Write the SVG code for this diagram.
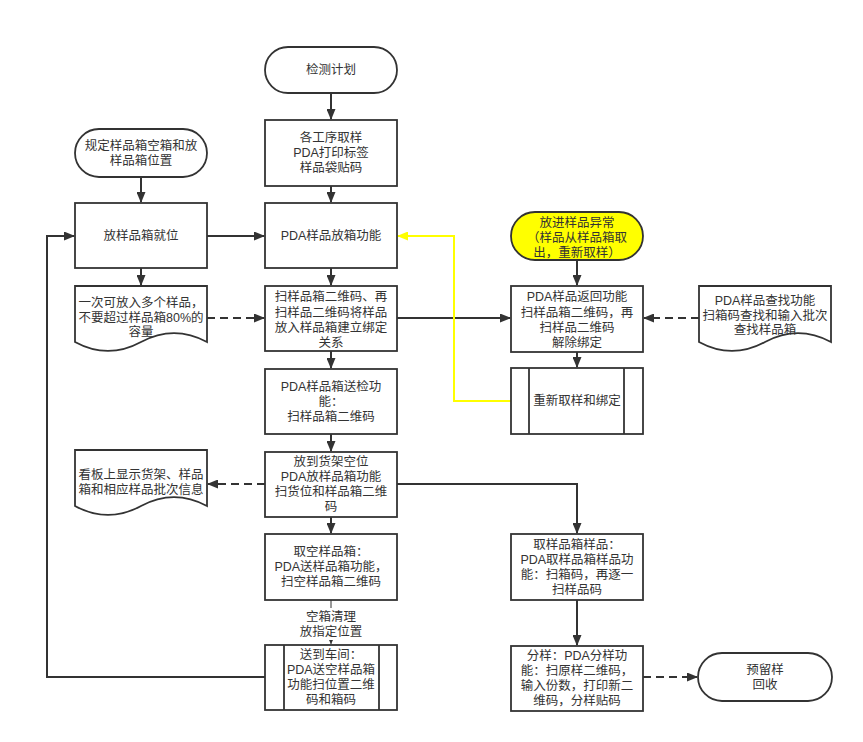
<svg xmlns="http://www.w3.org/2000/svg" width="863" height="742" viewBox="0 0 863 742">
<defs>
<style>
.box{fill:#fff;stroke:#333;stroke-width:1.8}
.yel{fill:#ffff00;stroke:#333;stroke-width:1.8}
.t{font-family:"Liberation Sans","Noto Sans CJK SC",sans-serif;font-size:12.5px;fill:#333;text-anchor:middle;dominant-baseline:central}
.c{fill:none;stroke:#333;stroke-width:2}
.d{fill:none;stroke:#333;stroke-width:2;stroke-dasharray:8 5}
.y{fill:none;stroke:#ffff00;stroke-width:2}
.thin{fill:none;stroke:#333;stroke-width:1}
</style>
<marker id="a" markerWidth="11" markerHeight="9" refX="10" refY="4.5" orient="auto" markerUnits="userSpaceOnUse"><path d="M0,0 L11,4.5 L0,9 z" fill="#333"/></marker>
<marker id="ay" markerWidth="11" markerHeight="9" refX="10" refY="4.5" orient="auto" markerUnits="userSpaceOnUse"><path d="M0,0 L11,4.5 L0,9 z" fill="#ffff00"/></marker>
<marker id="as" markerWidth="5" markerHeight="5" refX="5" refY="2.5" orient="auto" markerUnits="userSpaceOnUse"><path d="M0,0 L5,2.5 L0,5 z" fill="#333"/></marker>
</defs>
<rect width="863" height="742" fill="#fff"/>

<g id="connectors">
<path class="c" d="M331,93 V119" marker-end="url(#a)"/>
<path class="c" d="M331,186 V202" marker-end="url(#a)"/>
<path class="c" d="M331,268 V285" marker-end="url(#a)"/>
<path class="c" d="M331,351 V368" marker-end="url(#a)"/>
<path class="c" d="M331,434 V451" marker-end="url(#a)"/>
<path class="c" d="M331,517 V533" marker-end="url(#a)"/>
<path class="thin" d="M331,600 V644" marker-end="url(#as)"/>
<path class="c" d="M141,177 V202" marker-end="url(#a)"/>
<path class="c" d="M141,268 V285" marker-end="url(#a)"/>
<path class="c" d="M207,236 H264" marker-end="url(#a)"/>
<path class="d" d="M207,318 H264" marker-end="url(#a)"/>
<path class="c" d="M397,318 H510" marker-end="url(#a)"/>
<path class="c" d="M577,260 V285" marker-end="url(#a)"/>
<path class="c" d="M577,352 V367" marker-end="url(#a)"/>
<path class="d" d="M699,318 H644" marker-end="url(#a)"/>
<path class="y" d="M511,401 H454 V236 H398" marker-end="url(#ay)"/>
<path class="d" d="M265,484 H208" marker-end="url(#a)"/>
<path class="c" d="M397,484 H577 V533" marker-end="url(#a)"/>
<path class="c" d="M577,600 V645" marker-end="url(#a)"/>
<path class="d" d="M643,677 H697" marker-end="url(#a)"/>
<path class="c" d="M265,677 H47 V236 H74" marker-end="url(#a)"/>
<rect x="302" y="608" width="58" height="32" fill="#fff"/>
<text class="t"><tspan x="331" y="617">空箱清理</tspan><tspan x="331" y="632">放指定位置</tspan></text>
</g>

<g id="start">
<rect class="box" x="265" y="47" width="132" height="46" rx="23"/>
<text class="t" x="331" y="70">检测计划</text>
</g>
<g id="sampling">
<rect class="box" x="265" y="120" width="132" height="66"/>
<text class="t"><tspan x="331" y="138">各工序取样</tspan><tspan x="331" y="153">PDA打印标签</tspan><tspan x="331" y="168">样品袋贴码</tspan></text>
</g>
<g id="putbox">
<rect class="box" x="265" y="203" width="132" height="65"/>
<text class="t" x="331" y="236">PDA样品放箱功能</text>
</g>
<g id="bind">
<rect class="box" x="265" y="286" width="132" height="65"/>
<text class="t"><tspan x="331" y="297">扫样品箱二维码、再</tspan><tspan x="331" y="312.5">扫样品二维码将样品</tspan><tspan x="331" y="328">放入样品箱建立绑定</tspan><tspan x="331" y="343">关系</tspan></text>
</g>
<g id="sendcheck">
<rect class="box" x="265" y="369" width="132" height="65"/>
<text class="t"><tspan x="331" y="386.5">PDA样品箱送检功</tspan><tspan x="331" y="401.5">能：</tspan><tspan x="331" y="416.5">扫样品箱二维码</tspan></text>
</g>
<g id="shelf">
<rect class="box" x="265" y="452" width="132" height="65"/>
<text class="t"><tspan x="331" y="462">放到货架空位</tspan><tspan x="331" y="477">PDA放样品箱功能</tspan><tspan x="331" y="492">扫货位和样品箱二维</tspan><tspan x="331" y="507">码</tspan></text>
</g>
<g id="takeempty">
<rect class="box" x="265" y="534" width="132" height="66"/>
<text class="t"><tspan x="331" y="552">取空样品箱：</tspan><tspan x="331" y="567">PDA送样品箱功能，</tspan><tspan x="331" y="582">扫空样品箱二维码</tspan></text>
</g>
<g id="toworkshop">
<rect class="box" x="265" y="645" width="132" height="65"/>
<line class="box" x1="284" y1="645" x2="284" y2="710"/>
<line class="box" x1="379" y1="645" x2="379" y2="710"/>
<text class="t"><tspan x="331" y="655">送到车间：</tspan><tspan x="331" y="670">PDA送空样品箱</tspan><tspan x="331" y="685">功能扫位置二维</tspan><tspan x="331" y="700">码和箱码</tspan></text>
</g>

<g id="define">
<rect class="box" x="75" y="129" width="132" height="48" rx="24"/>
<text class="t"><tspan x="141" y="145.5">规定样品箱空箱和放</tspan><tspan x="141" y="160.5">样品箱位置</tspan></text>
</g>
<g id="place">
<rect class="box" x="75" y="203" width="132" height="65"/>
<text class="t" x="141" y="236">放样品箱就位</text>
</g>
<g id="capacity">
<path class="box" d="M75,286 H207 V342 Q174,324.3 141,342 Q108,359.9 75,342 Z"/>
<text class="t"><tspan x="141" y="303">一次可放入多个样品，</tspan><tspan x="141" y="317.5">不要超过样品箱80%的</tspan><tspan x="141" y="332">容量</tspan></text>
</g>
<g id="board">
<path class="box" d="M75,450 H207 V506 Q174,488.3 141,506 Q108,523.9 75,506 Z"/>
<text class="t"><tspan x="141" y="475">看板上显示货架、样品</tspan><tspan x="141" y="490">箱和相应样品批次信息</tspan></text>
</g>

<g id="abnormal">
<rect class="yel" x="511" y="212" width="132" height="48" rx="24"/>
<text class="t"><tspan x="577" y="222.5">放进样品异常</tspan><tspan x="577" y="237.5">（样品从样品箱取</tspan><tspan x="577" y="252.5">出，重新取样）</tspan></text>
</g>
<g id="return">
<rect class="box" x="511" y="286" width="132" height="66"/>
<text class="t"><tspan x="577" y="297">PDA样品返回功能</tspan><tspan x="577" y="312.5">扫样品箱二维码，再</tspan><tspan x="577" y="328">扫样品二维码</tspan><tspan x="577" y="343">解除绑定</tspan></text>
</g>
<g id="rebind">
<rect class="box" x="511" y="368" width="132" height="66"/>
<line class="box" x1="529" y1="368" x2="529" y2="434"/>
<line class="box" x1="624" y1="368" x2="624" y2="434"/>
<text class="t" x="577" y="401">重新取样和绑定</text>
</g>
<g id="search">
<path class="box" d="M699,286 H831 V342 Q798,324.3 765,342 Q732,359.9 699,342 Z"/>
<text class="t"><tspan x="765" y="301">PDA样品查找功能</tspan><tspan x="765" y="315.5">扫箱码查找和输入批次</tspan><tspan x="765" y="330">查找样品箱</tspan></text>
</g>
<g id="takesample">
<rect class="box" x="511" y="534" width="132" height="66"/>
<text class="t"><tspan x="577" y="545">取样品箱样品：</tspan><tspan x="577" y="560">PDA取样品箱样品功</tspan><tspan x="577" y="575">能：扫箱码，再逐一</tspan><tspan x="577" y="590">扫样品码</tspan></text>
</g>
<g id="split">
<rect class="box" x="511" y="646" width="132" height="65"/>
<text class="t"><tspan x="577" y="656">分样：PDA分样功</tspan><tspan x="577" y="671">能：扫原样二维码，</tspan><tspan x="577" y="686">输入份数，打印新二</tspan><tspan x="577" y="701">维码，分样贴码</tspan></text>
</g>
<g id="retain">
<rect class="box" x="698" y="653" width="134" height="48" rx="24"/>
<text class="t"><tspan x="765" y="669.5">预留样</tspan><tspan x="765" y="684.5">回收</tspan></text>
</g>
</svg>
